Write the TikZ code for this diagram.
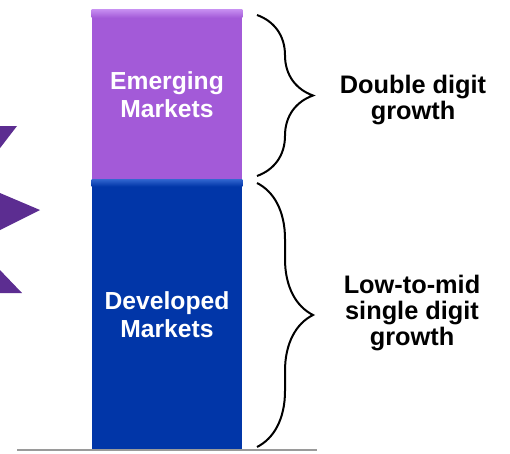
\documentclass[tikz,border=0pt]{standalone}
\usepackage{fontspec}
\setmainfont{Liberation Sans}
\usetikzlibrary{decorations.pathreplacing}
\definecolor{emcol}{HTML}{A35AD8}
\definecolor{emhi}{HTML}{C58CF0}
\definecolor{dvcol}{HTML}{0136A8}
\definecolor{dvhi}{HTML}{2E62CC}
\definecolor{starcol}{HTML}{5C2D91}
\definecolor{basecol}{HTML}{9A9A9A}

\begin{document}
\begin{tikzpicture}[x=0.75pt,y=-0.75pt,
  bar/.style={rectangle,inner sep=0pt,minimum width=112.5pt},
  barlabel/.style={text=white,font=\fontsize{18.5}{21}\selectfont\bfseries,align=center},
  note/.style={align=center,font=\fontsize{19}{19.5}\selectfont\bfseries},
  brc/.style={decorate,decoration={brace,amplitude=42pt,aspect=0.5},line width=1.5pt}]
\useasboundingbox (0,0) rectangle (510,453);
% star on the left edge
\begin{scope}
\clip (0,0) rectangle (510,453);
\fill[starcol] (-40,126) -- (17,126) -- (-26,182) -- (40,210) -- (-26,243) -- (22,293) -- (-40,293) -- cycle;
\end{scope}
% bars
\node [bar,fill=emcol,minimum height=127.5pt] (em) at (167,95) {};
\shade [top color=emhi,bottom color=emcol] (em.north west) rectangle ([yshift=-6pt]em.north east);
\node [bar,fill=dvcol,minimum height=201.75pt] (dv) at (167,314.5) {};
\shade [top color=dvhi,bottom color=dvcol] (dv.north west) rectangle ([yshift=-5pt]dv.north east);
\node [barlabel] (emtxt) at (em) {Emerging\\Markets};
\node [barlabel] (dvtxt) at (dv) {Developed\\Markets};
% base line
\coordinate (l1) at (17,450);
\coordinate (l2) at (317,450);
\draw [basecol,line width=1.2pt] (l1) -- (l2);
% braces
\coordinate (u1) at (257,15);
\coordinate (u2) at (257,176);
\coordinate (d1) at (257,183);
\coordinate (d2) at (257,447);
\draw [brc] (u1) -- (u2);
\draw [brc] (d1) -- (d2);
% labels
\node [note] (dbl) at (413,100) {Double digit\\growth};
\node [note] (low) at (412,313) {Low-to-mid\\single digit\\growth};
\end{tikzpicture}
\end{document}
